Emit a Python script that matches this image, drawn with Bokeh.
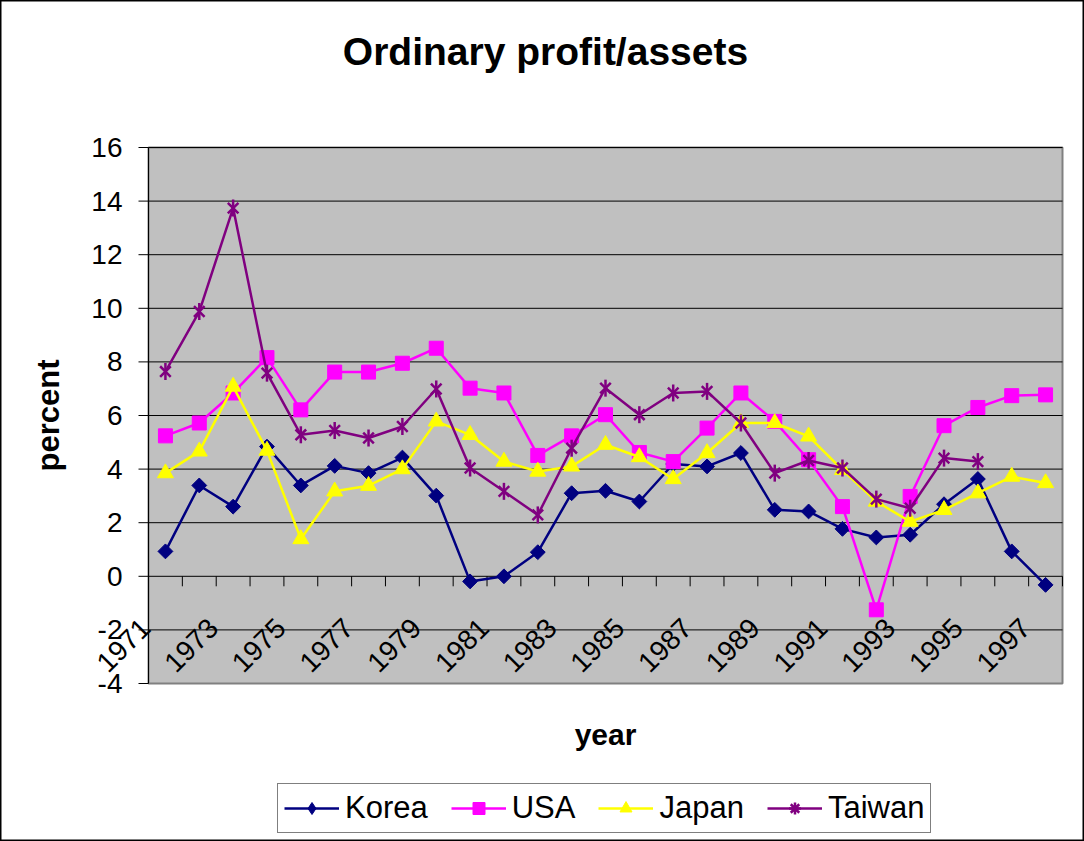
import math
from bokeh.plotting import figure
from bokeh.models import Range1d, Legend, LegendItem, ColumnDataSource
from bokeh.core.properties import value
from bokeh.embed import file_html
from bokeh.resources import INLINE

NAN = float("nan")

# ---- data -------------------------------------------------------------
years = list(range(1971, 1998))
korea = [0.93, 3.39, 2.60, 4.84, 3.39, 4.12, 3.85, 4.43, 3.01, -0.19, 0.00, 0.90,
         3.10, 3.19, 2.79, 4.19, 4.10, 4.60, 2.48, 2.42, 1.77, 1.45, 1.55, 2.69,
         3.63, 0.93, -0.32]
usa = [5.24, 5.72, 6.84, 8.16, 6.21, 7.62, 7.62, 7.95, 8.51, 7.02, 6.84, 4.51,
       5.24, 6.03, 4.62, 4.28, 5.53, 6.84, 5.78, 4.35, 2.60, -1.25, 2.98, 5.62,
       6.30, 6.74, 6.77]
japan = [3.85, 4.66, 7.08, 4.69, 1.39, 3.17, 3.38, 4.00, 5.78, 5.28, 4.28, 3.91,
         4.10, 4.91, 4.45, 3.63, 4.60, 5.72, 5.72, 5.22, 3.97, 2.79, 2.04, 2.48,
         3.10, 3.72, 3.48]
taiwan = [7.64, 9.88, 13.74, 7.58, 5.28, 5.44, 5.16, 5.59, 6.99, 4.04, 3.17, 2.29,
          4.78, 7.02, 6.03, 6.84, 6.90, 5.72, 3.85, 4.32, 4.04, 2.88, 2.54, 4.41,
          4.28, NAN, NAN]
series_names = ["Korea", "USA", "Japan", "Taiwan"]
y_ticks = [-4, -2, 0, 2, 4, 6, 8, 10, 12, 14, 16]
x_label_years = [y for y in years if y % 2 == 1]
title_text = "Ordinary profit/assets"
x_title = "year"
y_title = "percent"

FONT = "Liberation Sans"

# ---- layout (pixels) --------------------------------------------------
W, H = 1084, 841
PL, PR, PT, PB = 148, 1062, 147, 683          # plot area in pixels
x0, x1 = years[0] - 0.5, years[-1] + 0.5
y_min, y_max = y_ticks[0], y_ticks[-1]
sx = (PR - PL) / (x1 - x0)                     # px per x unit
sy = (PB - PT) / (y_max - y_min)               # px per y unit


def dx(px):
    return x0 + (px - PL) / sx


def dy(py):
    return y_max - (py - PT) / sy


p = figure(width=W, height=H, output_backend="svg", toolbar_location=None,
           x_range=Range1d(dx(0), dx(W)), y_range=Range1d(dy(H), dy(0)),
           x_axis_type=None, y_axis_type=None, min_border=0)
p.background_fill_color = "white"
p.border_fill_color = "white"
p.outline_line_color = "black"
p.outline_line_width = 2
p.xgrid.visible = False
p.ygrid.visible = False

# plot area
p.quad(left=[x0], right=[x1], bottom=[y_min], top=[y_max],
       fill_color="#C0C0C0", line_color="#808080", line_width=2)

# horizontal gridlines
grid_y = [t for t in y_ticks if t != y_min]
p.segment(x0=[x0] * len(grid_y), x1=[x1] * len(grid_y), y0=grid_y, y1=grid_y,
          line_color="black", line_width=1)

# y axis line, ticks and labels
p.segment(x0=[x0], x1=[x0], y0=[y_min], y1=[y_max], line_color="black", line_width=1)
p.segment(x0=[x0 - 10 / sx] * len(y_ticks), x1=[x0] * len(y_ticks), y0=y_ticks, y1=y_ticks,
          line_color="black", line_width=1)
p.text(x=[x0 - 26 / sx] * len(y_ticks), y=y_ticks, text=[str(t) for t in y_ticks],
       text_align="right", text_baseline="middle", text_font=value(FONT),
       text_font_size="28px", text_color="black")

# x axis ticks (category boundaries, crossing at 0) and rotated labels
bounds = [y - 0.5 for y in years] + [years[-1] + 0.5]
p.segment(x0=bounds, x1=bounds, y0=[0] * len(bounds), y1=[-10 / sy] * len(bounds),
          line_color="black", line_width=1)
p.text(x=[y - 0.5 - 3 / sx for y in x_label_years],
       y=[-47 / sy] * len(x_label_years),
       text=[str(y) for y in x_label_years], angle=math.pi / 4,
       text_align="right", text_baseline="middle", text_font=value(FONT),
       text_font_size="28px", text_color="black")

# ---- series ------------------------------------------------------------
src = ColumnDataSource(dict(x=years, korea=korea, usa=usa, japan=japan, taiwan=taiwan))
LW = 2.5
NAVY, MAGENTA, YELLOW, PURPLE = "#000080", "#FF00FF", "#FFFF00", "#800080"

kl = p.line("x", "korea", source=src, line_color=NAVY, line_width=LW)
p.scatter("x", "korea", source=src, marker="square", angle=math.pi / 4, size=10.5,
          fill_color=NAVY, line_color=NAVY)

ul = p.line("x", "usa", source=src, line_color=MAGENTA, line_width=LW)
um = p.scatter("x", "usa", source=src, marker="square", size=14,
               fill_color=MAGENTA, line_color=MAGENTA)

jl = p.line("x", "japan", source=src, line_color=YELLOW, line_width=LW)
jm = p.scatter("x", "japan", source=src, marker="triangle", size=16,
               fill_color=YELLOW, line_color=YELLOW)

tl = p.line("x", "taiwan", source=src, line_color=PURPLE, line_width=LW)
p.scatter("x", "taiwan", source=src, marker="x", size=15,
          line_color=PURPLE, line_width=2.5)
p.scatter("x", "taiwan", source=src, marker="dash", angle=math.pi / 2, size=17,
          line_color=PURPLE, line_width=2.5)

# legend-only marker shapes (legend glyphs are drawn without rotation);
# a single NaN point keeps them out of the plot area itself
k_leg = p.scatter(x=[NAN], y=[NAN], marker="diamond", size=16,
                  fill_color=NAVY, line_color=NAVY)
t_leg = p.scatter(x=[NAN], y=[NAN], marker="asterisk", size=17,
                  line_color=PURPLE, line_width=2.5)

# ---- titles ------------------------------------------------------------
p.text(x=[dx(545)], y=[dy(51)], text=[title_text], text_align="center",
       text_baseline="middle", text_font=value(FONT), text_font_size="39px",
       text_font_style="bold", text_color="black")
p.text(x=[(x0 + x1) / 2], y=[dy(733.6)], text=[x_title], text_align="center",
       text_baseline="middle", text_font=value(FONT), text_font_size="30px",
       text_font_style="bold", text_color="black")
p.text(x=[dx(47.8)], y=[(y_min + y_max) / 2], text=[y_title], angle=math.pi / 2,
       text_align="center", text_baseline="middle", text_font=value(FONT),
       text_font_size="31px", text_font_style="bold", text_color="black")

# ---- legend ------------------------------------------------------------
legend = Legend(items=[
    LegendItem(label=series_names[0], renderers=[kl, k_leg]),
    LegendItem(label=series_names[1], renderers=[ul, um]),
    LegendItem(label=series_names[2], renderers=[jl, jm]),
    LegendItem(label=series_names[3], renderers=[tl, t_leg]),
], orientation="horizontal", location=(277, 8), margin=0,
    label_text_font=FONT, label_text_font_size="31px", label_text_color="black",
    glyph_width=55, glyph_height=30, label_height=30, label_standoff=6,
    spacing=23, padding=6, border_line_color="black", border_line_width=1,
    background_fill_color="white", background_fill_alpha=1.0)
p.add_layout(legend, "center")

open("out.html", "w").write(file_html(p, INLINE))
